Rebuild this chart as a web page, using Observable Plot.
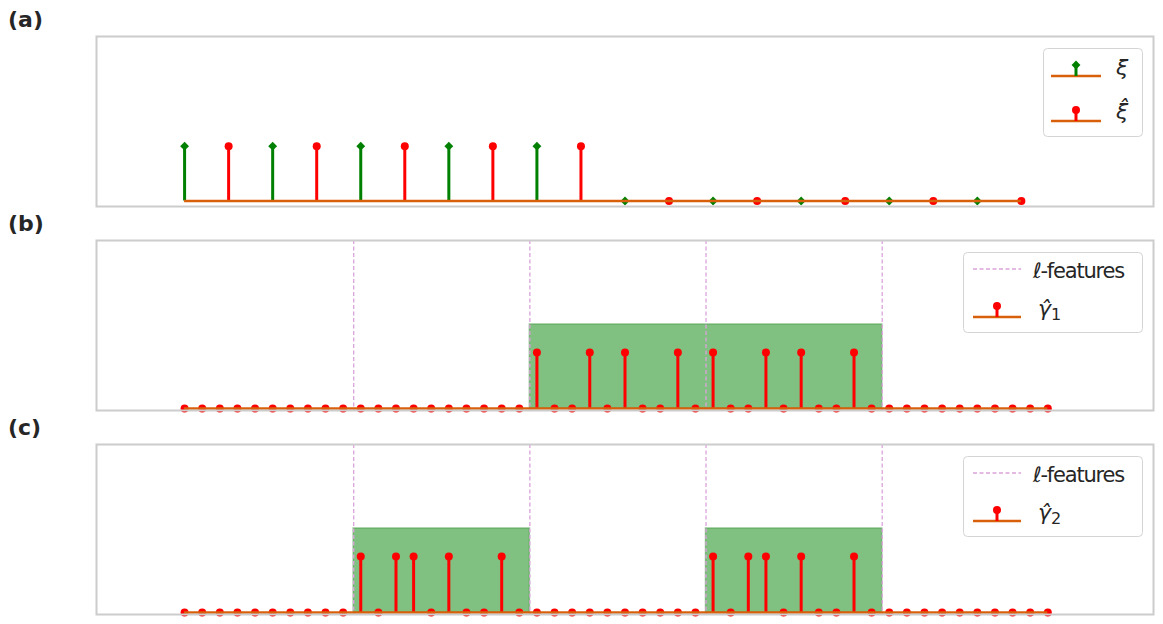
<!DOCTYPE html>
<html><head><meta charset="utf-8">
<script src="https://cdn.jsdelivr.net/npm/d3@7"></script>
<script src="https://cdn.jsdelivr.net/npm/@observablehq/plot@0.6"></script>
<style>
body{margin:0;background:#fff;font-family:"DejaVu Sans",sans-serif;}
#wrap{position:relative;width:1163px;height:624px;overflow:hidden;}
.panel{position:absolute;left:0;}
#overlay{position:absolute;left:0;top:0;pointer-events:none;}
</style></head><body><div id="wrap"></div>
<script>
// ---------- data ----------
const panelLabels = ["(a)", "(b)", "(c)"];
const xiIdx = [0, 2, 4, 6, 8, 10, 12, 14, 16, 18];
const xiVal = [1, 1, 1, 1, 1, 0, 0, 0, 0, 0];
const xiHatIdx = [1, 3, 5, 7, 9, 11, 13, 15, 17, 19];
const xiHatVal = [1, 1, 1, 1, 1, 0, 0, 0, 0, 0];
const gamma1 = [0,0,0,0,0,0,0,0,0,0, 0,0,0,0,0,0,0,0,0,0,
                1,0,0,1,0,1,0,0,1,0, 1,0,0,1,0,1,0,0,1,0,
                0,0,0,0,0,0,0,0,0,0];
const gamma2 = [0,0,0,0,0,0,0,0,0,0, 1,0,1,1,0,1,0,0,1,0,
                0,0,0,0,0,0,0,0,0,0, 1,0,1,1,0,1,0,0,1,0,
                0,0,0,0,0,0,0,0,0,0];
const featureBounds = [9.6, 19.6, 29.6, 39.6];
const boxes1Start = [19.6], boxes1End = [39.6];
const boxes2Start = [9.6, 29.6], boxes2End = [19.6, 39.6];
const boxHeight = 1.5;
const legendA = ["ξ", "ξ̂"];
const legendB = ["ℓ-features", "γ̂", "1"];
const legendC = ["ℓ-features", "γ̂", "2"];

// ---------- style ----------
const RED = "#ff0000", GREEN = "#008000", ORANGE = "#d9600b";
const PINK = "#dba3db", FRAME = "#cccccc";
const W = 1163, H = 204, MT = 34;

const wrap = document.getElementById("wrap");

function place(svg, top) {
  svg.classList.add("panel");
  svg.style.top = top + "px";
  wrap.appendChild(svg);
}

function stems(data, color, symbol) {
  return [
    Plot.ruleX(data, {x: "x", y1: 0, y2: "y", stroke: color, strokeWidth: 3}),
    Plot.dot(data, {x: "x", y: "y", r: 4, fill: color, stroke: "none", symbol})
  ];
}

// Panel (a)
const aXi = xiIdx.map((x, i) => ({x, y: xiVal[i]}));
const aXiHat = xiHatIdx.map((x, i) => ({x, y: xiHatVal[i]}));
const allA = xiIdx.concat(xiHatIdx);
const pa = Plot.plot({
  width: W, height: H, marginLeft: 96, marginRight: 10, marginTop: MT, marginBottom: 0,
  style: {background: "transparent", overflow: "visible"},
  x: {domain: [-2, 22], axis: null},
  y: {domain: [-0.1, 3], axis: null},
  marks: [
    ...stems(aXi, GREEN, "diamond2"),
    ...stems(aXiHat, RED, "circle"),
    Plot.ruleY([0], {x1: d3.min(allA), x2: d3.max(allA), stroke: ORANGE, strokeWidth: 2.5}),
    Plot.frame({stroke: FRAME, strokeWidth: 2})
  ]
});
place(pa, 2);

function gammaPanel(g, bs, be, top) {
  const data = g.map((y, x) => ({x, y}));
  const boxes = bs.map((s, i) => ({x1: s, x2: be[i], y: boxHeight}));
  const svg = Plot.plot({
    width: W, height: H, marginLeft: 96, marginRight: 10, marginTop: MT, marginBottom: 0,
    style: {background: "transparent", overflow: "visible"},
    x: {domain: [-5, 55], axis: null},
    y: {domain: [-0.035, 3], axis: null},
    marks: [
      Plot.rect(boxes, {x1: "x1", x2: "x2", y1: 0, y2: "y", fill: "#80c080", stroke: "#4f9f4f", strokeOpacity: 0.6, strokeWidth: 1.5}),
      Plot.ruleX(featureBounds, {stroke: PINK, strokeWidth: 1.3, strokeDasharray: "4,2.5"}),
      ...stems(data, RED, "circle"),
      Plot.ruleY([0], {x1: 0, x2: g.length - 1, stroke: ORANGE, strokeWidth: 2.5}),
      Plot.frame({stroke: FRAME, strokeWidth: 2})
    ]
  });
  place(svg, top);
}
gammaPanel(gamma1, boxes1Start, boxes1End, 206);
gammaPanel(gamma2, boxes2Start, boxes2End, 410);

// ---------- overlay: panel labels + legends ----------
const ov = d3.select(wrap).append("svg").attr("id", "overlay").attr("width", W).attr("height", 624);
panelLabels.forEach((t, i) => {
  ov.append("text").attr("x", 8).attr("y", 26.5 + 204 * i)
    .attr("font-family", "DejaVu Sans").attr("font-weight", "bold").attr("font-size", 22)
    .attr("fill", "#262626").text(t);
});

function legendBox(x, y, w, h) {
  ov.append("rect").attr("x", x + 0.5).attr("y", y + 0.5).attr("width", w).attr("height", h)
    .attr("rx", 4).attr("fill", "white").attr("fill-opacity", 0.8)
    .attr("stroke", "#d4d4d4").attr("stroke-width", 1);
}
function stemIcon(x0, x1, y, color, symbol) {
  const xm = (x0 + x1) / 2;
  ov.append("line").attr("x1", x0).attr("x2", x1).attr("y1", y).attr("y2", y)
    .attr("stroke", ORANGE).attr("stroke-width", 2.5);
  ov.append("line").attr("x1", xm).attr("x2", xm).attr("y1", y).attr("y2", y - 11)
    .attr("stroke", color).attr("stroke-width", 3);
  const sym = symbol === "diamond" ? d3.symbolDiamond2 : d3.symbolCircle;
  ov.append("path").attr("d", d3.symbol(sym, 50)())
    .attr("transform", `translate(${xm},${y - 11})`).attr("fill", color);
}
function label(x, y, t, size, italic) {
  return ov.append("text").attr("x", x).attr("y", y).attr("font-family", "DejaVu Sans")
    .attr("font-size", size).attr("font-style", italic ? "italic" : "normal")
    .attr("fill", "#262626").text(t);
}

// legend (a)
legendBox(1043, 48, 99, 88);
stemIcon(1051, 1101, 76, GREEN, "diamond");
label(1116, 75, legendA[0], 22, true);
stemIcon(1051, 1101, 121, RED, "circle");
label(1116, 119, legendA[1], 22, true);

function legendGamma(top, labels) {
  legendBox(963, top, 179, 80);
  ov.append("line").attr("x1", 973).attr("x2", 1021).attr("y1", top + 17).attr("y2", top + 17)
    .attr("stroke", PINK).attr("stroke-width", 1.3).attr("stroke-dasharray", "4,2.5");
  const t = label(1033, top + 26, "", 21, false).attr("letter-spacing", -1.2);
  t.append("tspan").attr("font-style", "italic").text(labels[0].slice(0, 1));
  t.append("tspan").text(labels[0].slice(1));
  stemIcon(973, 1021, top + 65, RED, "circle");
  const g = label(1038, top + 64, "", 22, true);
  g.append("tspan").text(labels[1]);
  g.append("tspan").attr("font-style", "normal").attr("font-size", 16).attr("dy", 4).text(labels[2]);
}
legendGamma(252, legendB);
legendGamma(456, legendC);
</script></body></html>
